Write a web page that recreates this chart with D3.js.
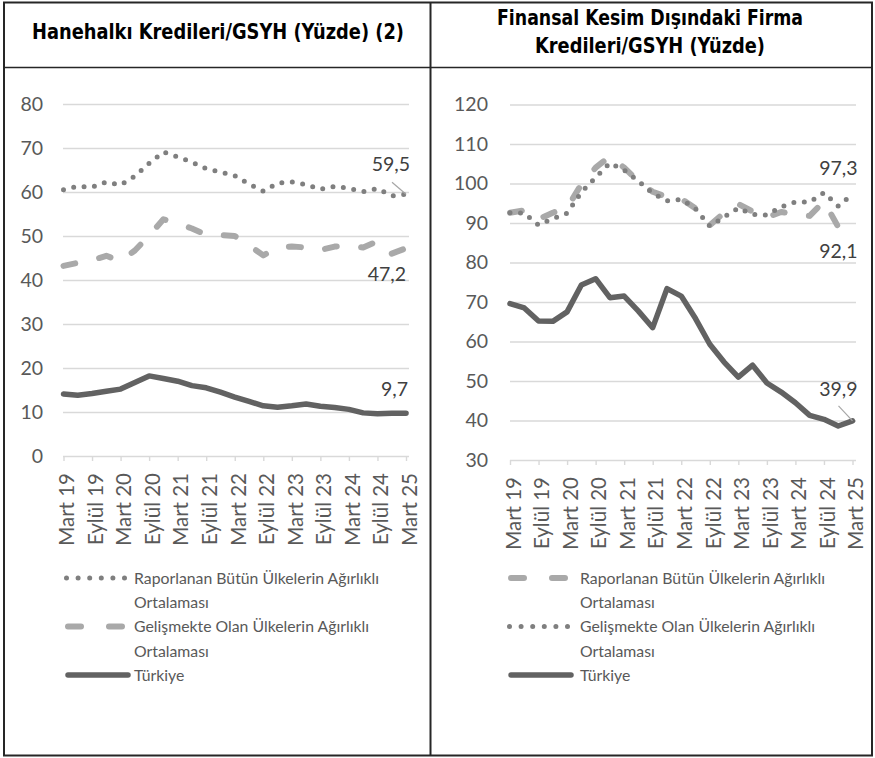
<!DOCTYPE html>
<html><head><meta charset="utf-8">
<script src="https://cdn.jsdelivr.net/npm/d3@7"></script>
<style>body{margin:0;background:#fff} svg{display:block}</style>
</head><body>
<svg id="c" width="875" height="758"></svg>
<script>
const quarters = ["Mart 19","Haziran 19","Eylül 19","Aralık 19","Mart 20","Haziran 20","Eylül 20","Aralık 20","Mart 21","Haziran 21","Eylül 21","Aralık 21","Mart 22","Haziran 22","Eylül 22","Aralık 22","Mart 23","Haziran 23","Eylül 23","Aralık 23","Mart 24","Haziran 24","Eylül 24","Aralık 24","Mart 25"];
const tickLabels = quarters.filter((d, i) => i % 2 === 0);

// Hanehalkı Kredileri/GSYH
const hhTicks = [0,10,20,30,40,50,60,70,80];
const hhAll = [60.5,61.3,61.1,62.3,61.6,63.6,66.5,69.1,68.0,66.8,65.3,64.5,63.7,61.8,60.2,62.0,62.3,61.7,60.6,61.3,60.8,60.1,60.8,59.1,59.5];
const hhEm  = [43.2,43.9,44.5,45.5,44.3,46.7,50.1,53.8,52.8,51.7,50.3,50.2,50.0,47.9,45.6,47.3,47.6,47.4,46.8,47.6,47.8,47.4,48.8,46.0,47.2];
const hhTr  = [14.1,13.8,14.2,14.7,15.2,16.7,18.2,17.6,17.0,16.0,15.5,14.5,13.4,12.4,11.4,11.1,11.4,11.8,11.3,11.0,10.6,9.8,9.6,9.7,9.7];

// Finansal Kesim Dışındaki Firma Kredileri/GSYH
const fcTicks = [30,40,50,60,70,80,90,100,110,120];
const fcAll = [92.6,93.2,91.0,92.6,93.8,99.8,104.0,106.9,104.0,100.5,97.9,96.6,96.1,93.7,89.4,92.6,94.8,92.9,91.4,92.8,92.2,91.8,95.5,89.0,92.1];
const fcEm  = [92.6,92.5,89.5,91.1,92.5,97.8,101.5,105.2,103.4,100.6,97.5,95.6,96.0,93.6,89.2,91.5,93.8,92.2,92.0,94.1,95.3,95.3,97.7,94.3,97.3];
const fcTr  = [69.6,68.5,65.2,65.1,67.5,74.3,75.9,71.1,71.5,67.7,63.5,73.4,71.5,65.8,59.3,54.8,51.0,54.0,49.5,47.2,44.5,41.3,40.3,38.6,39.9];

const nameAll = ["Raporlanan Bütün Ülkelerin Ağırlıklı", "Ortalaması"];
const nameEm = ["Gelişmekte Olan Ülkelerin Ağırlıklı", "Ortalaması"];
const nameTr = ["Türkiye"];

const titleLeft = ["Hanehalkı Kredileri/GSYH (Yüzde) (2)"];
const titleRight = ["Finansal Kesim Dışındaki Firma", "Kredileri/GSYH (Yüzde)"];

const FONT = "Lato, 'Open Sans', sans-serif";
const svg = d3.select("#c");
const fmt = v => String(v).replace(".", ",");

const STY = {
  dot:  {stroke:"#7f7f7f", width:5, dash:"0 10.5", cap:"round"},
  dash: {stroke:"#a9a9a9", width:6, dash:"12 24.5", cap:"round"},
  solid:{stroke:"#626262", width:5.5, dash:null, cap:"round"}
};

// frame
svg.append("rect").attr("x",4).attr("y",2.5).attr("width",868).attr("height",753)
  .attr("fill","none").attr("stroke","#262626").attr("stroke-width",2);
svg.append("line").attr("x1",430.5).attr("x2",430.5).attr("y1",2).attr("y2",756)
  .attr("stroke","#262626").attr("stroke-width",2);
svg.append("line").attr("x1",4).attr("x2",872).attr("y1",67.5).attr("y2",67.5)
  .attr("stroke","#262626").attr("stroke-width",1.5);

function title(lines, cx, baselines, lens){
  lines.forEach((t,i)=>{
    svg.append("text").attr("x",cx).attr("y",baselines[i])
      .attr("text-anchor","middle")
      .attr("font-family","'DejaVu Sans Condensed','DejaVu Sans',sans-serif")
      .attr("font-weight","bold").attr("font-size",21)
      .attr("textLength",lens[i]).attr("lengthAdjust","spacingAndGlyphs")
      .attr("fill","#000").text(t);
  });
}
title(titleLeft, 218, [39], [372]);
title(titleRight, 650, [25, 53], [306, 230]);

function panel(cfg){
  const x = d3.scalePoint().domain(quarters).range(cfg.xr);
  const y = d3.scaleLinear().domain(cfg.yd).range(cfg.yr);
  const g = svg.append("g");

  // y axis with gridlines
  const ya = g.append("g").attr("transform",`translate(${cfg.gx[0]},0)`)
    .call(d3.axisLeft(y).tickValues(cfg.ticks).tickSize(-(cfg.gx[1]-cfg.gx[0])).tickPadding(cfg.pad).tickFormat(d3.format("d")));
  ya.select(".domain").remove();
  ya.selectAll(".tick line").attr("stroke","#d9d9d9").attr("stroke-width",1.4);
  ya.selectAll(".tick text").attr("font-family",FONT).attr("font-size",19.5).attr("fill","#595959");
  ya.selectAll(".tick").filter(d=>d===cfg.yd[0]).select("line").remove();

  // x axis
  const xa = g.append("g").attr("transform",`translate(0,${cfg.yr[0]})`)
    .call(d3.axisBottom(x).tickValues(tickLabels).tickSize(5).tickSizeOuter(0));
  xa.select(".domain").attr("stroke","#d9d9d9").attr("stroke-width",1.4)
    .attr("d",`M${cfg.gx[0]},0.5H${cfg.gx[1]}`);
  xa.selectAll(".tick line").attr("stroke","#d9d9d9").attr("stroke-width",1.4);
  xa.selectAll(".tick text").attr("font-family",FONT).attr("font-size",20.5).attr("fill","#595959")
    .attr("transform","rotate(-90)").attr("x",-17).attr("y",0).attr("dy","0.5em")
    .style("text-anchor","end");

  const line = d3.line().x((d,i)=>x(quarters[i])).y(d=>y(d)).curve(d3.curveLinear);
  cfg.series.forEach(s=>{
    const st = STY[s.style];
    g.append("path").attr("d",line(s.values)).attr("fill","none")
      .attr("stroke",st.stroke).attr("stroke-width",st.width)
      .attr("stroke-linecap",st.cap).attr("stroke-linejoin","round")
      .attr("stroke-dasharray",st.dash);
  });

  // data labels
  cfg.labels.forEach(l=>{
    const s = cfg.series[l.s];
    const v = s.values[s.values.length-1];
    const px = x(quarters[quarters.length-1]), py = y(v);
    g.append("text").attr("x",px+l.dx).attr("y",py+l.dy)
      .attr("text-anchor","end").attr("font-family",FONT).attr("font-size",19.5)
      .attr("fill","#404040").text(fmt(v));
    if(l.leader){
      g.append("line").attr("x1",px+l.leader[0]).attr("y1",py+l.leader[1])
        .attr("x2",px).attr("y2",py).attr("stroke","#a6a6a6").attr("stroke-width",1.2);
    }
  });

  // legend
  const lg = g.append("g");
  cfg.legend.forEach((it,i)=>{
    const ly = cfg.ly[i];
    const st = STY[it.style];
    let x1 = cfg.lx, x2 = cfg.lx + 60, dash = st.dash;
    if(it.style==="dot"){ x1 = cfg.lx+1.5; x2 = cfg.lx+60; dash="0 11.6"; }
    if(it.style==="dash"){ x1 = cfg.lx+3; x2 = cfg.lx+57; dash="13 28"; }
    if(it.style==="solid"){ x1 = cfg.lx+3; x2 = cfg.lx+63; }
    lg.append("line").attr("x1",x1).attr("x2",x2).attr("y1",ly).attr("y2",ly)
      .attr("stroke",st.stroke).attr("stroke-width",st.width)
      .attr("stroke-linecap","round").attr("stroke-dasharray",dash);
    it.name.forEach((t,j)=>{
      lg.append("text").attr("x",cfg.lx+cfg.ltx).attr("y",ly+j*24.5).attr("dy","0.35em")
        .attr("font-family",FONT).attr("font-size",15.8).attr("fill","#595959").text(t);
    });
  });
}

panel({
  xr:[63.5,406], yd:[0,80], yr:[456,104], ticks:hhTicks, gx:[63,409], pad:20,
  series:[{values:hhEm,style:"dash"},{values:hhAll,style:"dot"},{values:hhTr,style:"solid"}],
  labels:[{s:1,dx:4,dy:-23,leader:[-14,-12]},{s:0,dx:0,dy:33},{s:2,dx:2,dy:-17}],
  legend:[{name:nameAll,style:"dot"},{name:nameEm,style:"dash"},{name:nameTr,style:"solid"}],
  lx:65, ly:[578,626.5,675], ltx:69
});

panel({
  xr:[510,852.5], yd:[30,120], yr:[460,104.5], ticks:fcTicks, gx:[510,856], pad:22,
  series:[{values:fcAll,style:"dash"},{values:fcEm,style:"dot"},{values:fcTr,style:"solid"}],
  labels:[{s:1,dx:5,dy:-19},{s:0,dx:5,dy:43},{s:2,dx:5,dy:-25,leader:[-14,-15]}],
  legend:[{name:nameAll,style:"dash"},{name:nameEm,style:"dot"},{name:nameTr,style:"solid"}],
  lx:508, ly:[578,626.5,675], ltx:72
});
</script>
</body></html>
